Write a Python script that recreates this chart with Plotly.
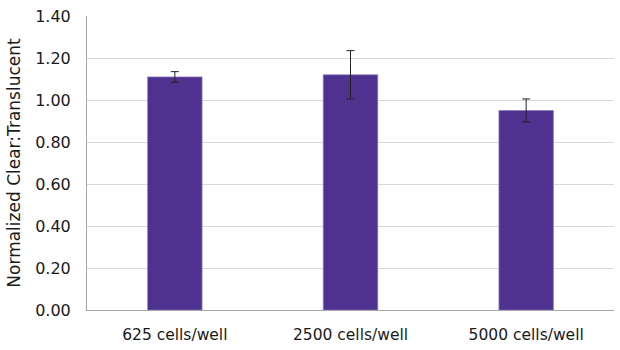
import plotly.graph_objects as go

categories = ["625 cells/well", "2500 cells/well", "5000 cells/well"]
values = [1.11, 1.12, 0.95]
errors = [0.025, 0.115, 0.055]
tick_vals = [0, 0.2, 0.4, 0.6, 0.8, 1.0, 1.2, 1.4]
tick_text = ["0.00", "0.20", "0.40", "0.60", "0.80", "1.00", "1.20", "1.40"]

fig = go.Figure(go.Bar(
    x=categories, y=values,
    marker=dict(color="#4F3190", line=dict(color="#8B78C0", width=0.7)),
    width=0.31,
    error_y=dict(type="data", array=errors, visible=True, color="#222222", thickness=1, width=4),
))

fig.update_layout(
    width=620, height=350,
    margin=dict(l=87, r=6, t=16, b=40),
    plot_bgcolor="white", paper_bgcolor="white",
    font=dict(family="DejaVu Sans", size=15, color="#1a1a1a"),
    showlegend=False,
)
fig.update_xaxes(showline=True, linecolor="#A6A6A6", linewidth=1, ticks="", showgrid=False,
                 tickfont=dict(size=15.5), ticklabelstandoff=10)
fig.update_yaxes(range=[0, 1.4], tickvals=tick_vals, ticktext=tick_text,
                 showgrid=True, gridcolor="#D9D9D9", gridwidth=1,
                 showline=True, linecolor="#A6A6A6", linewidth=1, zeroline=False,
                 ticks="", ticklen=0, ticklabelstandoff=12,
                 title=dict(text="Normalized Clear:Translucent", font=dict(size=17), standoff=10),
                 tickfont=dict(size=16))

fig.write_html("out.html")
